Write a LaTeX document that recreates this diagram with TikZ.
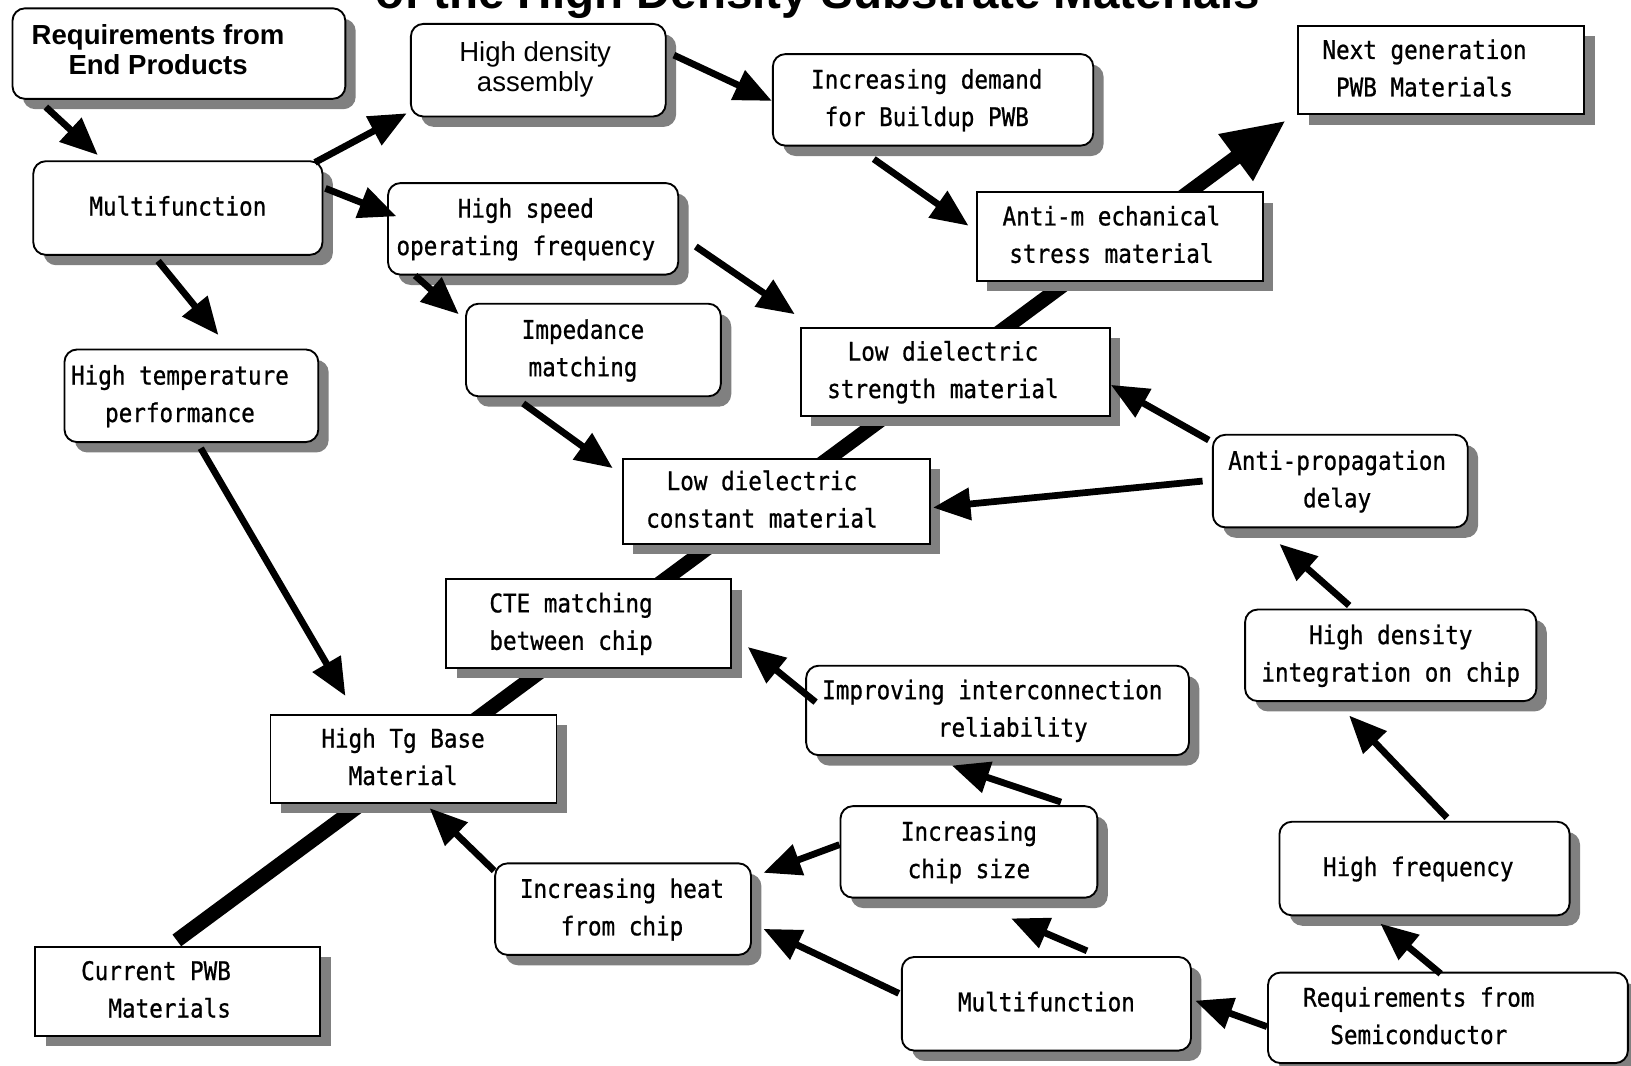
\documentclass[tikz,border=0pt]{standalone}
\usepackage{fontspec}
\setmainfont{Liberation Sans}
\newfontfamily\gothic[FakeStretch=0.88,FakeBold=0.8]{DejaVu Sans Mono}
\usepackage{tikz}
\usetikzlibrary{arrows.meta,calc,shadows,backgrounds}

\newcommand{\boxfont}{\gothic\fontsize{24.7pt}{36pt}\selectfont}
\newcommand{\headfont}{\fontsize{26.5pt}{29pt}\selectfont}
% centred lines, shifted left by half of the optional width
\newcommand{\boxlines}[2][0pt]{\begin{tabular}{@{}c@{}}#2\end{tabular}\hspace*{#1}}

\tikzset{
  rbox/.style  = {draw, line width=1.8pt, rounded corners=12pt, fill=white,
                  inner sep=0pt, font=\boxfont,
                  drop shadow={shadow xshift=10pt, shadow yshift=-10pt,
                               fill=black!50, opacity=1}},
  sbox/.style  = {rbox, sharp corners},
  link/.style  = {-{Triangle[length=36pt,width=30pt]}, line width=6.5pt},
  spine/.style = {-{Triangle[length=60pt,width=52pt]}, line width=14pt},
}

\begin{document}
\begin{tikzpicture}[x=1pt,y=-1pt]
  \useasboundingbox (0,0) rectangle (1568,1024);
  \clip (0,0) rectangle (1568,1024);

  \node[anchor=base, font=\bfseries\fontsize{45.7pt}{50pt}\selectfont] (title) at (786,8)
    {of the High Density Substrate Materials};

  % nodes
  \node[rbox, font=\headfont\bfseries, minimum width=320pt, minimum height=87pt]
    (reqend) at (172,51.5) {\boxlines[40pt]{Requirements from\\End Products}};
  \node[rbox, font=\headfont, minimum width=245pt, minimum height=89pt]
    (hdasm) at (517.5,67.5) {\boxlines[6pt]{High density\\assembly}};
  \node[rbox, minimum width=308pt, minimum height=88pt]
    (buildup) at (897,96) {\boxlines[12pt]{Increasing demand\\for Buildup PWB}};
  \node[sbox, minimum width=275pt, minimum height=85pt]
    (nextgen) at (1385.5,67.5) {\boxlines[32pt]{Next generation\\PWB Materials}};
  \node[rbox, minimum width=278pt, minimum height=90pt]
    (multiend) at (171,200) {\boxlines{Multifunction}};
  \node[rbox, minimum width=279pt, minimum height=88pt]
    (highspeed) at (512.5,220) {\boxlines[14pt]{High speed\\operating frequency}};
  \node[sbox, minimum width=275pt, minimum height=85pt]
    (antimech) at (1076.5,227.5) {\boxlines[16pt]{Anti-m echanical\\stress material}};
  \node[rbox, minimum width=244pt, minimum height=89pt]
    (hightemp) at (184,380.5) {\boxlines[22pt]{High temperature\\performance}};
  \node[rbox, minimum width=245pt, minimum height=89pt]
    (impedance) at (570.5,336.5) {\boxlines[20pt]{Impedance\\matching}};
  \node[sbox, minimum width=297pt, minimum height=85pt]
    (lowstrength) at (918.5,357.5) {\boxlines[24pt]{Low dielectric\\strength material}};
  \node[rbox, minimum width=245pt, minimum height=89pt]
    (antiprop) at (1288.5,462.5) {\boxlines[6pt]{Anti-propagation\\delay}};
  \node[sbox, minimum width=295pt, minimum height=82pt]
    (lowconst) at (746.5,482) {\boxlines[28pt]{Low dielectric\\constant material}};
  \node[sbox, minimum width=274pt, minimum height=85pt]
    (cte) at (566,599.5) {\boxlines[34pt]{CTE matching\\between chip}};
  \node[rbox, minimum width=280pt, minimum height=88pt]
    (densechip) at (1337,630) {\boxlines{High density\\integration on chip}};
  \node[rbox, minimum width=368pt, minimum height=86pt]
    (reliab) at (959,683) {\boxlines[10pt]{Improving interconnection\\~~~reliability}};
  \node[sbox, minimum width=275pt, minimum height=85pt]
    (hightg) at (397.5,729.5) {\boxlines[20pt]{High Tg Base\\Material}};
  \node[rbox, minimum width=279pt, minimum height=90pt]
    (highfreq) at (1369.5,835) {\boxlines[12pt]{High frequency}};
  \node[rbox, minimum width=247pt, minimum height=88pt]
    (chipsize) at (931.5,819) {\boxlines{Increasing\\chip size}};
  \node[rbox, minimum width=246pt, minimum height=88pt]
    (chipheat) at (599,874) {\boxlines[2pt]{Increasing heat\\from chip}};
  \node[sbox, minimum width=274pt, minimum height=86pt]
    (current) at (171,953) {\boxlines[42pt]{Current PWB\\~~Materials}};
  \node[rbox, minimum width=278pt, minimum height=90pt]
    (multisemi) at (1006,965) {\boxlines{Multifunction}};
  \node[rbox, minimum width=346pt, minimum height=87pt]
    (reqsemi) at (1392,978.5) {\boxlines[56pt]{Requirements from\\Semiconductor}};

  % main line, behind the boxes
  \begin{scope}[on background layer]
    \draw[spine] ($(current.north)+(-1,-5)$) -- ($(nextgen.south west)+(-11,5)$);
  \end{scope}

  % links
  \draw[link] ($(reqend.south west)+(33,7)$) -- ($(multiend.north west)+(63,-5)$);
  \draw[link] ($(multiend.north east)+(-8,2)$) -- ($(hdasm.south west)+(-3,-4)$);
  \draw[link] ($(multiend.north east)+(2,27)$) -- ($(highspeed.west)+(9,-12)$);
  \draw[link] ($(multiend.south)+(-19,5)$) -- ($(hightemp.north)+(26,-13)$);
  \draw[link] ($(hdasm.east)+(7,-14.5)$) -- ($(buildup.west)+(0,1)$);
  \draw[link] ($(buildup.south)+(-57,12)$) -- ($(antimech.west)+(-7,-10.5)$);
  \draw[link] ($(highspeed.south west)+(27,0)$) -- ($(impedance.north west)+(-6,11)$);
  \draw[link] ($(highspeed.east)+(16,17)$) -- ($(lowstrength.north west)+(-5,-12)$);
  \draw[link] ($(impedance.south)+(-67.5,6)$) -- ($(lowconst.north west)+(-9,10)$);
  \draw[link] ($(antiprop.north west)+(-3,6)$) -- ($(lowstrength.east)+(0,12.5)$);
  \draw[link] ($(antiprop.west)+(-9,0)$) -- ($(lowconst.east)+(2,6)$);
  \draw[link] ($(hightemp.south)+(9,5)$) -- ($(hightg.north west)+(73,-17)$);
  \draw[link] ($(densechip.north)+(-40,-3)$) -- ($(antiprop.south)+(-58.5,15)$);
  \draw[link] ($(reliab.west)+(10,-8)$) -- ($(cte.east)+(15,22.5)$);
  \draw[link] ($(chipsize.north)+(88.5,-3)$) -- ($(reliab.south)+(-44,9)$);
  \draw[link] ($(chipsize.west)+(0,-7)$) -- ($(chipheat.north east)+(11,10)$);
  \draw[link] ($(chipheat.north west)+(0,8)$) -- ($(hightg.south)+(15.5,4)$);
  \draw[link] ($(multisemi.west)+(-2,-10)$) -- ($(chipheat.east)+(11,19)$);
  \draw[link] ($(multisemi.north)+(39,-5)$) -- ($(chipsize.south)+(40.5,19)$);
  \draw[link] ($(highfreq.north)+(21.5,-3)$) -- ($(densechip.south)+(-40,13)$);
  \draw[link] ($(reqsemi.north)+(-7,2)$) -- ($(highfreq.south)+(-42.5,7)$);
  \draw[link] ($(reqsemi.west)+(0,8.5)$) -- ($(multisemi.east)+(3,-3)$);
\end{tikzpicture}
\end{document}
